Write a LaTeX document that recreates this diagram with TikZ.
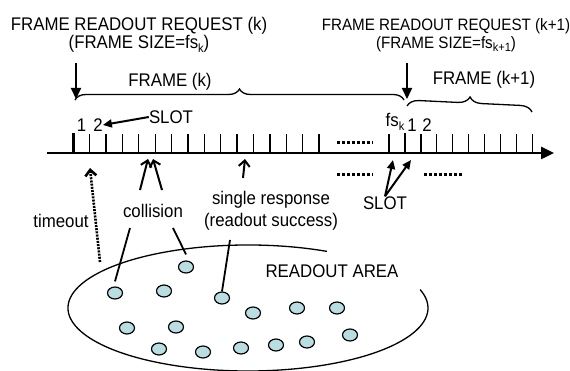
\documentclass[tikz,border=0pt]{standalone}
\usepackage{fontspec}
\setmainfont{Liberation Sans}[FakeStretch=0.92]
\usetikzlibrary{arrows.meta,decorations.pathreplacing,shapes.geometric}
\definecolor{tagblue}{RGB}{185,222,225}
\newcommand{\lowidx}[1]{\raisebox{-0.45ex}{\fontsize{12}{12}\selectfont #1}}
\tikzstyle{lbl} = [font=\fontsize{18.3}{18}\selectfont, inner sep=0pt, align=center]
\tikzstyle{slotmark} = [draw, line width=1.3pt]
\tikzstyle{framemark} = [draw, line width=2.8pt]
\tikzstyle{req} = [draw, line width=2pt, -{Triangle[length=11pt,width=10pt]}]
\tikzstyle{ptr} = [draw, line width=2pt, -{Straight Barb[length=6pt,width=11pt]}]
\tikzstyle{dotrow} = [draw, line width=3pt, dash pattern=on 2.6pt off 2.4pt]
\tikzstyle{tagnode} = [ellipse, draw, line width=1.2pt, fill=tagblue, minimum width=15pt, minimum height=12pt, inner sep=0pt]
\tikzstyle{wire} = [draw, line width=1.8pt]
\tikzstyle{frbrace} = [draw, line width=1.3pt, decorate, decoration={brace, amplitude=11pt}]

\begin{document}
\begin{tikzpicture}[x=1pt,y=1pt]
  \useasboundingbox (0,0) rectangle (570,371);

  % time axis
  \coordinate (t0) at (47,218);
  \coordinate (t1) at (554,218);
  \draw[line width=2.5pt,-{Triangle[length=13pt,width=12pt]}] (t0) -- (t1);

  % slot marks, frame k then frame k+1
  \foreach \i in {1,...,15}
    \draw[slotmark] (73.3+16.38*\i,218) -- ++(0,19);
  \draw[slotmark] (389,218) -- ++(0,19);
  \foreach \i in {1,...,8}
    \draw[slotmark] (405+15.9*\i,218) -- ++(0,19);
  \draw[framemark] (73.3,218) -- ++(0,20);
  \draw[framemark] (405,218) -- ++(0,20);

  % slot numbers
  \foreach \pos/\name/\txt in {
    {(81.5,246)/sa1/1}, {(98,246)/sa2/2},
    {(412,246)/sb1/1}, {(427,246)/sb2/2}}
    \node[lbl] (\name) at \pos {\txt};
  \node[lbl] (fsk) at (395,249) {fs\lowidx{k}};

  % frames
  \draw[frbrace] (75,271) -- (404,271);
  \draw[frbrace, decoration={amplitude=12pt}] (407,265) -- (532,259);
  \node[lbl] (frk) at (170,289) {FRAME (k)};
  \node[lbl] (frk1) at (484,291) {FRAME (k+1)};

  % readout requests
  \node[lbl] (req1) at (139,336) {FRAME READOUT REQUEST (k)\\(FRAME SIZE=fs\lowidx{k})};
  \node[lbl, font=\fontsize{16.5}{18}\selectfont] (req2) at (446,336)
    {FRAME READOUT REQUEST (k+1)\\(FRAME SIZE=fs\lowidx{k+1})};
  \coordinate (r1a) at (76,308);
  \coordinate (r1b) at (76,272);
  \coordinate (r2a) at (407,308);
  \coordinate (r2b) at (407,272);
  \path[req] (r1a) -- (r1b);
  \path[req] (r2a) -- (r2b);

  % slot pointers
  \node[lbl] (slot1) at (171,254) {SLOT};
  \path[req, -{Triangle[length=9pt,width=8pt]}] (slot1.west) -- (sa2.east);
  \node[lbl] (slot2) at (385,168) {SLOT};
  \coordinate (s2a) at (393,211);
  \coordinate (s2b) at (411,211);
  \path[req, -{Triangle[length=9pt,width=8pt]}] (slot2.north) -- (s2a);
  \path[req, -{Triangle[length=9pt,width=8pt]}] (slot2.north) -- (s2b);

  % gaps in the slot sequence
  \path[dotrow] (337,228) -- (373,228);
  \path[dotrow] (337,196) -- (373,196);
  \path[dotrow] (424,196) -- (462,196);

  % responses on the axis
  \node[lbl] (tmo) at (61,150) {timeout};
  \node[lbl] (col) at (153,160) {collision};
  \node[lbl] (single) at (271,160) {single response\\[4pt](readout success)};
  \coordinate (tm0) at (100,109);
  \coordinate (tm1) at (90,203);
  \path[ptr, line width=2.6pt, dash pattern=on 2pt off 1.2pt] (tm0) -- (tm1);
  \coordinate (c0) at (140,181);
  \coordinate (c1) at (162,181);
  \coordinate (c2) at (148,212);
  \coordinate (c3) at (153,212);
  \path[ptr] (c0) -- (c2);
  \path[ptr] (c1) -- (c3);
  \coordinate (sr0) at (243,193);
  \coordinate (sr1) at (245,212);
  \path[ptr] (sr0) -- (sr1);

  % readout area with its tags
  \coordinate (area) at (248,63);
  \draw[line width=1.3pt] (area) ++(64:180 and 63)
    arc[start angle=64, end angle=377, x radius=180, y radius=63];
  \node[lbl] (areatxt) at (332,100) {READOUT AREA};
  \foreach \pos/\name in {
    {(186,104)/g1}, {(115,78)/g2}, {(164,80)/g3}, {(222,73)/g4},
    {(253,58)/g5}, {(297,63)/g6}, {(337,63)/g7}, {(127,43)/g8},
    {(176,44)/g9}, {(350,36)/g10}, {(159,22)/g11}, {(203,19)/g12},
    {(241,23)/g13}, {(276,26)/g14}, {(307,29)/g15}}
    \node[tagnode] (\name) at \pos {};

  % tags answering
  \coordinate (w1) at (130,143);
  \coordinate (w2) at (173,143);
  \coordinate (w3) at (230,131);
  \path[wire] (w1) -- ([yshift=5pt]g2.north);
  \path[wire] (w2) -- ([yshift=6pt]g1.north);
  \path[wire] (w3) -- (g4.north);
\end{tikzpicture}
\end{document}
